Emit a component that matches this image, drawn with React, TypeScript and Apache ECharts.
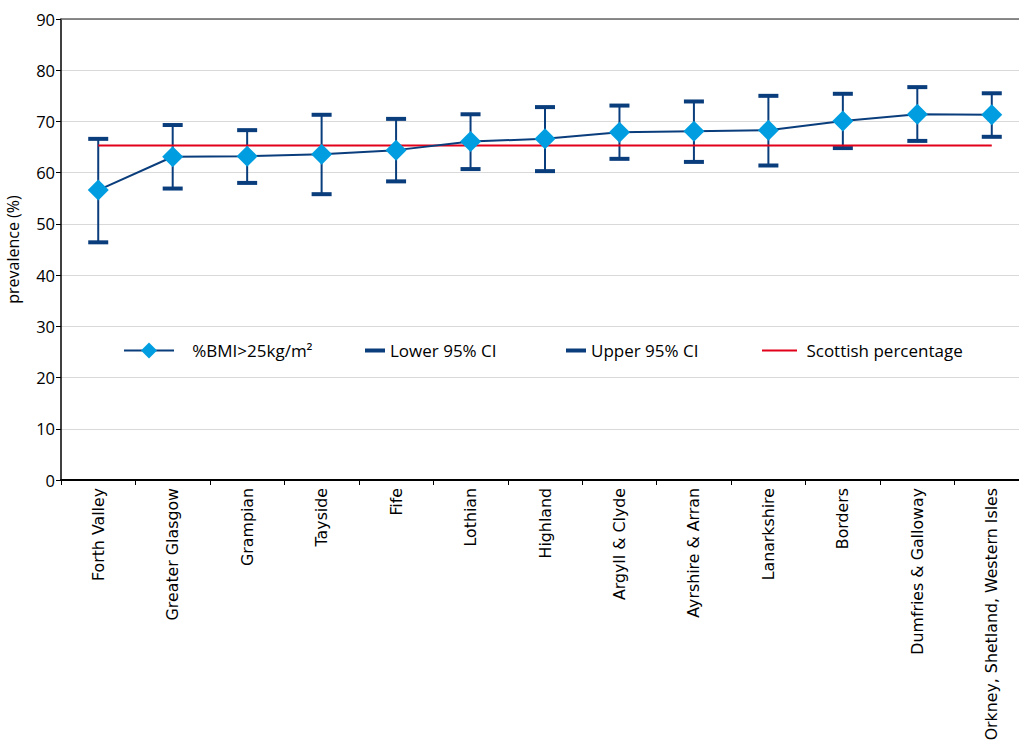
import React, { useEffect, useRef } from "react";
import * as echarts from "echarts";

const categories = [
  "Forth Valley",
  "Greater Glasgow",
  "Grampian",
  "Tayside",
  "Fife",
  "Lothian",
  "Highland",
  "Argyll & Clyde",
  "Ayrshire & Arran",
  "Lanarkshire",
  "Borders",
  "Dumfries & Galloway",
  "Orkney, Shetland, Western Isles",
];
const bmiValues = [56.6, 63.1, 63.2, 63.6, 64.4, 66.1, 66.6, 67.9, 68.1, 68.3, 70.1, 71.4, 71.3];
const lowerCI = [46.4, 56.9, 58.0, 55.8, 58.3, 60.7, 60.3, 62.7, 62.1, 61.4, 64.8, 66.2, 67.0];
const upperCI = [66.6, 69.3, 68.3, 71.3, 70.5, 71.4, 72.8, 73.1, 73.9, 75.0, 75.4, 76.7, 75.5];
const scottishPct = 65.3;
const yTicks = { min: 0, max: 90, interval: 10 };

const NAVY = "#0a3d7c";
const BLUE = "#009ee0";
const RED = "#e2001a";
const SANS = "Open Sans";
const LABEL_FONT = "DejaVu Sans";

export default function App() {
  const ref = useRef<HTMLDivElement>(null);
  useEffect(() => {
    if (!ref.current) return;
    const chart = echarts.init(ref.current, undefined, { renderer: "svg" });
    const legendText = { fontFamily: SANS, fontSize: 17, color: "#000" };
    const legendBase = { top: 342, padding: 0, itemGap: 0, textStyle: legendText };
    chart.setOption({
      animation: false,
      backgroundColor: "#fff",
      grid: {
        left: 61,
        top: 19,
        bottom: 265,
        right: -10,
        containLabel: false,
        outerBoundsMode: "none",
      },
      legend: [
        {
          ...legendBase,
          data: ["%BMI>25kg/m²"],
          left: 123,
          itemWidth: 50,
          itemHeight: 20,
          formatter: (n: string) => "   " + n,
        },
        {
          ...legendBase,
          data: [{ name: "Lower 95% CI", icon: "rect" }],
          left: 365,
          itemWidth: 20,
          itemHeight: 4,
        },
        {
          ...legendBase,
          data: [{ name: "Upper 95% CI", icon: "rect" }],
          left: 566,
          itemWidth: 20,
          itemHeight: 4,
        },
        {
          ...legendBase,
          data: [{ name: "Scottish percentage", icon: "rect" }],
          left: 762,
          itemWidth: 35,
          itemHeight: 2,
          formatter: (n: string) => " " + n,
        },
      ],
      xAxis: [
        {
          type: "category",
          data: categories,
          boundaryGap: true,
          axisLine: { lineStyle: { color: "#000", width: 2 } },
          axisTick: { show: true, length: 5, lineStyle: { color: "#000" } },
          axisLabel: {
            rotate: 90,
            interval: 0,
            fontFamily: LABEL_FONT,
            fontSize: 15.8,
            color: "#000",
            margin: 8,
          },
          splitLine: { show: false },
        },
        {
          type: "category",
          data: categories,
          position: "top",
          boundaryGap: true,
          axisLine: { show: true, lineStyle: { color: "#666", width: 1.5 } },
          axisTick: { show: false },
          axisLabel: { show: false },
          splitLine: { show: false },
        },
      ],
      yAxis: {
        type: "value",
        min: yTicks.min,
        max: yTicks.max,
        interval: yTicks.interval,
        name: "prevalence (%)",
        nameLocation: "middle",
        nameGap: 40,
        nameTextStyle: { fontFamily: SANS, fontSize: 16, color: "#000" },
        axisLine: { show: true, lineStyle: { color: "#000", width: 1.5 } },
        axisTick: { show: true, length: 5, lineStyle: { color: "#000" } },
        axisLabel: { fontFamily: SANS, fontSize: 16.5, color: "#000", margin: 6 },
        splitLine: { show: true, lineStyle: { color: "#d9d9d9", width: 1.2 } },
      },
      series: [
        {
          name: "errorbars",
          type: "custom",
          silent: true,
          z: 2,
          data: categories.map((_, i) => [i, lowerCI[i], upperCI[i]]),
          renderItem: (params: any, api: any) => {
            const i = api.value(0);
            const lo = api.coord([i, api.value(1)]);
            const hi = api.coord([i, api.value(2)]);
            return {
              type: "line",
              shape: { x1: lo[0], y1: lo[1], x2: hi[0], y2: hi[1] },
              style: { stroke: NAVY, lineWidth: 2 },
            };
          },
        },
        {
          name: "Lower 95% CI",
          type: "scatter",
          z: 3,
          symbol: "rect",
          symbolSize: [20, 4],
          itemStyle: { color: NAVY, opacity: 1 },
          data: lowerCI,
        },
        {
          name: "Upper 95% CI",
          type: "scatter",
          z: 3,
          symbol: "rect",
          symbolSize: [20, 4],
          itemStyle: { color: NAVY, opacity: 1 },
          data: upperCI,
        },
        {
          name: "Scottish percentage",
          type: "line",
          z: 4,
          symbol: "none",
          lineStyle: { color: RED, width: 2 },
          itemStyle: { color: RED },
          data: categories.map(() => scottishPct),
        },
        {
          name: "%BMI>25kg/m²",
          type: "line",
          z: 5,
          symbol: "diamond",
          symbolSize: 21,
          lineStyle: { color: NAVY, width: 2 },
          itemStyle: { color: BLUE },
          data: bmiValues,
        },
      ],
    });
    return () => chart.dispose();
  }, []);
  return (
    <div
      ref={ref}
      style={{ position: "fixed", left: 0, top: 0, width: 1019, height: 745 }}
    />
  );
}
